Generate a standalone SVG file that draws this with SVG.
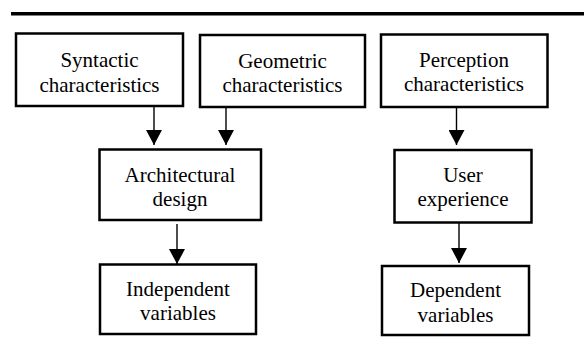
<svg xmlns="http://www.w3.org/2000/svg" width="585" height="347" viewBox="0 0 585 347">
<defs>
<marker id="ah" markerUnits="userSpaceOnUse" markerWidth="16" markerHeight="16" viewBox="0 0 16 16" refX="15" refY="8" orient="auto">
<path d="M0,0 L15,8 L0,16 Z" fill="#000"/>
</marker>
</defs>
<style>
.box{fill:#fff;stroke:#000;stroke-width:2.5}
.c{stroke:#000;stroke-width:1.4;fill:none}
</style>
<rect width="585" height="347" fill="#fff"/>
<line x1="11" y1="13.7" x2="584" y2="13.7" stroke="#000" stroke-width="3.5"/>
<g font-family="'Liberation Serif', 'DejaVu Serif', serif" font-size="21" text-anchor="middle" fill="#000">
<g id="syntactic">
<rect class="box" x="16" y="33.5" width="167" height="72.5"/>
<text x="99.5" y="67">Syntactic</text>
<text x="99.5" y="91.5">characteristics</text>
</g>
<g id="geometric">
<rect class="box" x="200" y="35" width="165" height="72"/>
<text x="282.5" y="67.5">Geometric</text>
<text x="282.5" y="91.5">characteristics</text>
</g>
<g id="perception">
<rect class="box" x="381" y="34.5" width="166.5" height="72.5"/>
<text x="464" y="67">Perception</text>
<text x="464" y="91">characteristics</text>
</g>
<g id="architectural">
<rect class="box" x="99.5" y="149.5" width="161.5" height="70.5"/>
<text x="180" y="182">Architectural</text>
<text x="180" y="206">design</text>
</g>
<g id="user">
<rect class="box" x="394.5" y="150" width="137" height="72.5"/>
<text x="463" y="181.5">User</text>
<text x="463" y="205.5">experience</text>
</g>
<g id="independent">
<rect class="box" x="100" y="264.5" width="156" height="69.5"/>
<text x="178" y="295.5">Independent</text>
<text x="178" y="320">variables</text>
</g>
<g id="dependent">
<rect class="box" x="382" y="266" width="147" height="69"/>
<text x="455.5" y="297">Dependent</text>
<text x="455.5" y="322">variables</text>
</g>
</g>
<g id="connectors">
<line class="c" x1="154" y1="106" x2="154" y2="145" marker-end="url(#ah)"/>
<line class="c" x1="226" y1="107" x2="226" y2="145" marker-end="url(#ah)"/>
<line class="c" x1="456.5" y1="107" x2="456.5" y2="145" marker-end="url(#ah)"/>
<line class="c" x1="177" y1="224" x2="177" y2="264" marker-end="url(#ah)"/>
<line class="c" x1="459" y1="223" x2="459" y2="263" marker-end="url(#ah)"/>
</g>
</svg>
